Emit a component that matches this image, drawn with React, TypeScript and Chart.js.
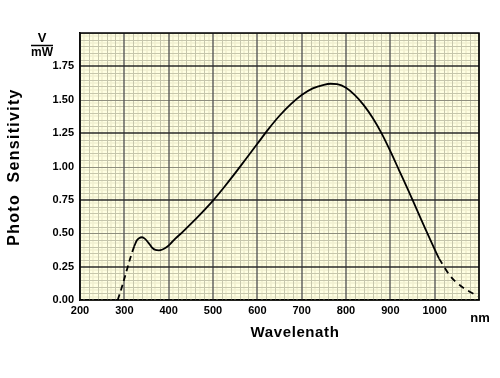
import React, { useEffect, useRef } from "react";
import { Chart, registerables } from "chart.js";

Chart.register(...registerables);

// Dashed extrapolation at the short-wavelength end
const lowDashNm = [285, 293, 300, 307, 314, 322];
const lowDashV = [0.0, 0.08, 0.16, 0.24, 0.32, 0.4];

// Measured (solid) response
const solidNm = [322, 328, 334, 340, 346, 354, 362, 370, 378, 386, 395, 405, 415, 430, 450, 475, 500, 525, 550, 575, 600, 625, 650, 675, 700, 725, 750, 765, 780, 800, 820, 840, 860, 880, 900, 920, 940, 960, 980, 1000, 1010];
const solidV = [0.4, 0.445, 0.465, 0.47, 0.46, 0.43, 0.395, 0.375, 0.372, 0.378, 0.395, 0.425, 0.46, 0.505, 0.57, 0.655, 0.745, 0.845, 0.95, 1.06, 1.17, 1.28, 1.38, 1.465, 1.535, 1.585, 1.612, 1.62, 1.617, 1.59, 1.535, 1.46, 1.365, 1.25, 1.115, 0.97, 0.825, 0.675, 0.525, 0.38, 0.31];

// Dashed extrapolation at the long-wavelength end
const highDashNm = [1010, 1035, 1057, 1080, 1098];
const highDashV = [0.31, 0.18, 0.11, 0.06, 0.03];

const xTickLabels = [200, 300, 400, 500, 600, 700, 800, 900, 1000];
const yTickLabels = [0, 0.25, 0.5, 0.75, 1.0, 1.25, 1.5, 1.75];

const X_MIN = 200;
const X_MAX = 1100;
const Y_MIN = 0;
const Y_MAX = 2;

const FONT = "'Liberation Sans', Arial, Helvetica, sans-serif";

const pts = (xs: number[], ys: number[]) => xs.map((x, i) => ({ x, y: ys[i] }));

export default function App() {
  const ref = useRef<HTMLCanvasElement | null>(null);

  useEffect(() => {
    if (!ref.current) return;

    // grid level for each ruling: 0 light, 1 grey, 2 medium, 3/4 dark
    const xLevel = (v: number) => {
      const k = Math.round(v / 10);
      if (k % 10 === 0) return 3;
      if (k % 2 === 0) return 1;
      return 0;
    };
    const yLevel = (v: number) => {
      const k = Math.round(v * 40);
      if (k % 20 === 10) return 4;
      if (k % 10 === 0) return 2;
      if (k % 2 === 0) return 1;
      return 0;
    };
    const styles: Record<number, [string, number]> = {
      0: ["#f1efd0", 1.6],
      1: ["#c6c6ac", 1],
      2: ["#8e8e7e", 1],
      3: ["#5a5a5a", 1.4],
      4: ["#2a2a2a", 1.4],
    };

    const paper = {
      id: "paper",
      beforeDraw(chart: any) {
        const { ctx, chartArea: a } = chart;
        ctx.save();
        ctx.fillStyle = "#ffffe2";
        ctx.fillRect(a.left, a.top, a.right - a.left, a.bottom - a.top);
        ctx.restore();
      },
      beforeDatasetsDraw(chart: any) {
        const { ctx, chartArea: a, scales } = chart;
        ctx.save();
        for (let lvl = 0; lvl <= 4; lvl++) {
          const [col, w] = styles[lvl];
          ctx.strokeStyle = col;
          ctx.lineWidth = w;
          const off = w === 1 ? 0.5 : 0;
          for (const t of scales.x.ticks) {
            if (xLevel(t.value) !== lvl) continue;
            const px = Math.round(scales.x.getPixelForValue(t.value)) + off;
            ctx.beginPath();
            ctx.moveTo(px, a.top);
            ctx.lineTo(px, a.bottom);
            ctx.stroke();
          }
          for (const t of scales.y.ticks) {
            if (yLevel(t.value) !== lvl) continue;
            const py = Math.round(scales.y.getPixelForValue(t.value)) + off;
            ctx.beginPath();
            ctx.moveTo(a.left, py);
            ctx.lineTo(a.right, py);
            ctx.stroke();
          }
        }
        ctx.strokeStyle = "#000";
        ctx.lineWidth = 1.5;
        ctx.strokeRect(a.left, a.top, a.right - a.left, a.bottom - a.top);
        ctx.restore();
      },
      afterDraw(chart: any) {
        const { ctx } = chart;
        ctx.save();
        ctx.fillStyle = "#000";
        ctx.strokeStyle = "#000";
        ctx.textAlign = "center";
        ctx.textBaseline = "middle";
        // unit fraction V / mW
        ctx.font = `bold 13px ${FONT}`;
        ctx.fillText("V", 42, 38);
        ctx.beginPath();
        ctx.moveTo(31, 45.5);
        ctx.lineTo(53, 45.5);
        ctx.lineWidth = 1.5;
        ctx.stroke();
        ctx.font = `bold 12px ${FONT}`;
        ctx.fillText("mW", 42, 53);

        // nm
        ctx.font = `bold 13px ${FONT}`;
        ctx.fillText("nm", 480, 318);

        // x title
        ctx.font = `bold 15px ${FONT}`;
        (ctx as any).letterSpacing = "0.6px";
        ctx.fillText("Wavelenath", 295, 333);

        // y title
        ctx.save();
        ctx.translate(15, 167);
        ctx.rotate(-Math.PI / 2);
        ctx.font = `bold 16px ${FONT}`;
        (ctx as any).letterSpacing = "1.3px";
        ctx.fillText("Photo  Sensitivity", 0, 0);
        ctx.restore();
        (ctx as any).letterSpacing = "0px";
        ctx.restore();
      },
    };

    const line = {
      borderColor: "#000",
      borderWidth: 1.8,
      pointRadius: 0,
      fill: false,
      cubicInterpolationMode: "monotone" as const,
    };

    const chart = new Chart(ref.current, {
      type: "line",
      data: {
        datasets: [
          { ...line, data: pts(lowDashNm, lowDashV), borderDash: [6, 4] },
          { ...line, data: pts(solidNm, solidV) },
          { ...line, data: pts(highDashNm, highDashV), borderDash: [6, 5] },
        ],
      },
      options: {
        animation: false,
        responsive: false,
        devicePixelRatio: 1,
        layout: { padding: { left: 0, top: 33, right: 21, bottom: 0 } },
        plugins: { legend: { display: false }, tooltip: { enabled: false } },
        scales: {
          x: {
            type: "linear",
            min: X_MIN,
            max: X_MAX,
            afterFit: (s: any) => {
              s.height = 78;
            },
            ticks: {
              stepSize: 10,
              autoSkip: false,
              maxRotation: 0,
              includeBounds: true,
              padding: 4,
              color: "#000",
              font: { family: FONT, size: 11, weight: "bold" },
              callback: (v: any) => (xTickLabels.includes(Math.round(Number(v))) ? String(Math.round(Number(v))) : ""),
            },
            grid: { drawTicks: false, color: "rgba(0,0,0,0)" },
            border: { color: "#000", width: 1.5 },
          },
          y: {
            type: "linear",
            min: Y_MIN,
            max: Y_MAX,
            afterFit: (s: any) => {
              s.width = 80;
            },
            ticks: {
              stepSize: 0.025,
              autoSkip: false,
              padding: 6,
              color: "#000",
              font: { family: FONT, size: 11, weight: "bold" },
              callback: (v: any) => {
                const k = Math.round(Number(v) * 40);
                return yTickLabels.some((t) => Math.round(t * 40) === k) ? (k / 40).toFixed(2) : "";
              },
            },
            grid: { drawTicks: false, color: "rgba(0,0,0,0)" },
            border: { color: "#000", width: 1.5 },
          },
        },
      },
      plugins: [paper],
    });

    return () => chart.destroy();
  }, []);

  return (
    <div style={{ position: "fixed", left: 0, top: 0, width: 500, height: 378, background: "#fff" }}>
      <canvas ref={ref} width={500} height={378} style={{ width: 500, height: 378, display: "block" }} />
    </div>
  );
}
